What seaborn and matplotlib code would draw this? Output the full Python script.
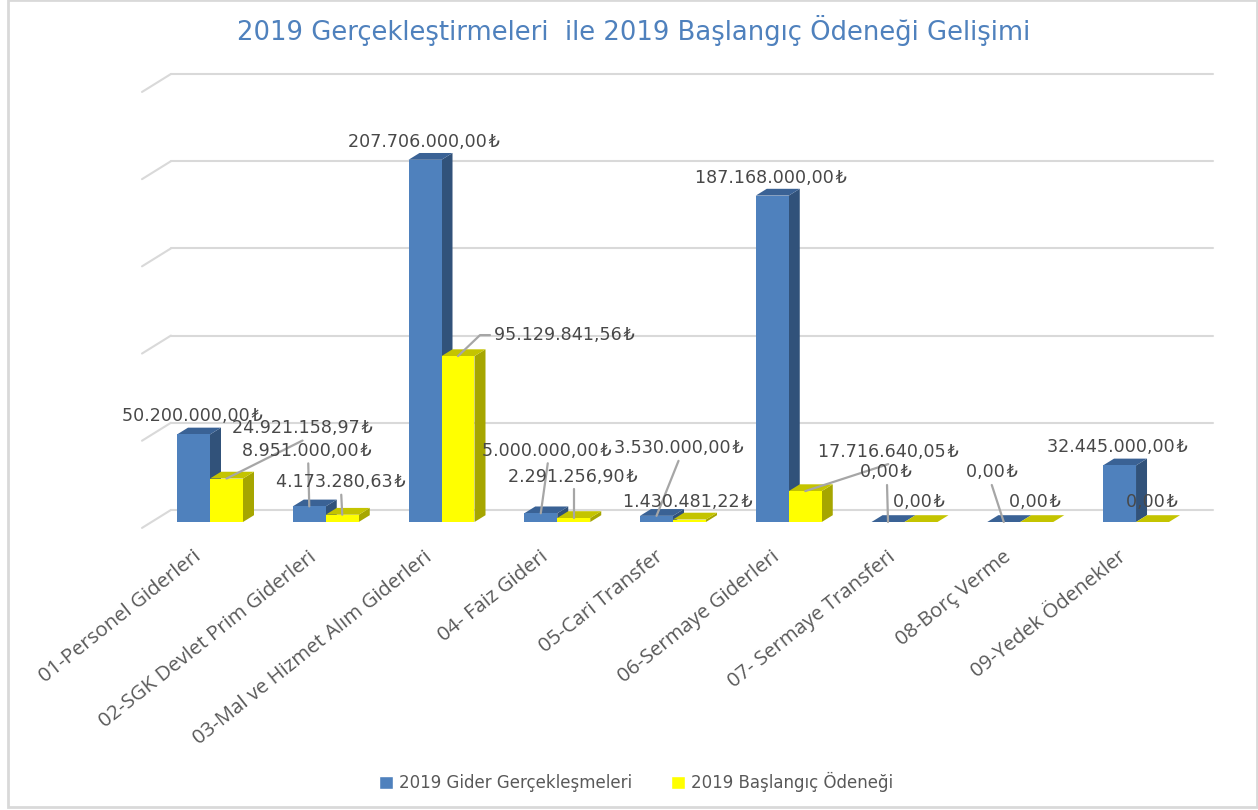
import pandas as pd
import seaborn as sns
import matplotlib.pyplot as plt
from matplotlib.patches import Polygon, Rectangle
from matplotlib.transforms import Affine2D, ScaledTranslation

categories = ["01-Personel Giderleri", "02-SGK Devlet Prim Giderleri", "03-Mal ve Hizmet Alım Giderleri",
              "04- Faiz Gideri", "05-Cari Transfer", "06-Sermaye Giderleri",
              "07- Sermaye Transferi", "08-Borç Verme", "09-Yedek Ödenekler"]
gider = [50200000.00, 8951000.00, 207706000.00, 5000000.00, 3530000.00, 187168000.00, 0.00, 0.00, 32445000.00]
odenek = [24921158.97, 4173280.63, 95129841.56, 2291256.90, 1430481.22, 17716640.05, 0.00, 0.00, 0.00]
series_names = ["2019 Gider Gerçekleşmeleri", "2019 Başlangıç Ödeneği"]
grid_values = [0, 50e6, 100e6, 150e6, 200e6, 250e6]

# label offsets from the top of each bar, in pixels
label_offsets = [
    [(-1, 18), (-2, 55), (-1, 18), (6, 62), (22, 68), (-1, 18), (-2, 50), (-12, 50), (-2, 18)],
    [(76, 51), (-1, 33), (106, 21), (-1, 41), (-2, 18), (83, 39), (-2, 20), (-2, 20), (-1, 20)],
]
# leader lines, same idea: {bar index: list of points}
leaders = [
    {1: [(0, 0), (-1, 43)], 3: [(0, 0), (7, 50)], 4: [(0, 0), (22, 55)], 6: [(0, 0), (-1, 37)], 7: [(0, 0), (-12, 37)]},
    {0: [(0, 0), (76, 38)], 1: [(0, 0), (-1, 20)], 2: [(0, 0), (22, 21), (32, 21)], 3: [(0, 0), (0, 29)], 5: [(0, 0), (83, 27)]},
]

colors = ["#4f81bd", "#ffff00"]
side_colors = ["#31527a", "#a6a600"]
top_colors = ["#3a6295", "#c4c400"]
text_color = "#595959"

sns.set_theme(style="white")
plt.rcParams["font.family"] = ["DejaVu Sans"]

df = pd.DataFrame({
    "kalem": categories * 2,
    "tutar": gider + odenek,
    "seri": [series_names[0]] * len(gider) + [series_names[1]] * len(odenek),
})

fig = plt.figure(figsize=(12.58, 8.10), dpi=100)
ax = fig.add_axes([142 / 1258, (810 - 522) / 810, (1213 - 142) / 1258, (522 - 74) / 810])
sns.barplot(data=df, x="kalem", y="tutar", hue="seri", palette=colors, saturation=1, width=0.57, gap=0, ax=ax)
ax.set_xlim(-0.5875, 8.665)
ax.set_ylim(0, 256.9e6)

depth_x = 0.095
depth_y = 3.9e6

# back wall grid and floor diagonals
for v in grid_values:
    ax.plot([-0.5875 + 0.25, 8.665], [v + 6.9e6, v + 6.9e6], color="#d9d9d9", lw=1.5, zorder=1, clip_on=False)
    ax.plot([-0.5875, -0.5875 + 0.25], [v - 3.4e6, v + 6.9e6], color="#d9d9d9", lw=1.5, zorder=1, clip_on=False)

# fake the 3D look with side and top faces
for s, cont in enumerate(ax.containers):
    for bar in cont:
        x0, w, h = bar.get_x(), bar.get_width(), bar.get_height()
        bar.set_zorder(3 + 2 * s)
        bar.set_edgecolor("none")
        top = [(x0, h), (x0 + w, h), (x0 + w + depth_x, h + depth_y), (x0 + depth_x, h + depth_y)]
        side = [(x0 + w, 0), (x0 + w + depth_x, depth_y), (x0 + w + depth_x, h + depth_y), (x0 + w, h)]
        ax.add_patch(Polygon(side, fc=side_colors[s], ec="none", zorder=2.5 + 2 * s, clip_on=False))
        ax.add_patch(Polygon(top, fc=top_colors[s], ec="none", zorder=2.6 + 2 * s, clip_on=False))

# data labels and leader lines
for s, (cont, vals) in enumerate(zip(ax.containers, [gider, odenek])):
    for i, (bar, v) in enumerate(zip(cont, vals)):
        xy = (bar.get_x() + bar.get_width() / 2, bar.get_height())
        pts = leaders[s].get(i)
        if pts:
            shift = Affine2D().translate(*ax.transData.transform(xy))
            ax.plot([p[0] for p in pts], [p[1] for p in pts], color="#a6a6a6", lw=1.6, zorder=8,
                    clip_on=False, transform=shift)
        txt = f"{v:,.2f}".replace(",", "#").replace(".", ",").replace("#", ".") + "\u200a₺"
        ax.annotate(txt, xy=xy, xytext=label_offsets[s][i], textcoords="offset pixels",
                    ha="center", va="center", fontsize=12.6, color="#484848", zorder=9, annotation_clip=False)

ax.set_xlabel("")
ax.set_ylabel("")
ax.set_yticks([])
ax.set_xticks(range(len(categories)))
ax.set_xticklabels(categories, rotation=38.5, ha="right", rotation_mode="anchor",
                   fontsize=14.7, color=text_color, family="Open Sans")
ax.tick_params(axis="x", length=0, pad=18)
nudge = ScaledTranslation(-18 / 100, 0, fig.dpi_scale_trans)
for lab in ax.get_xticklabels():
    lab.set_transform(lab.get_transform() + nudge)
sns.despine(ax=ax, left=True, bottom=True)
ax.patch.set_alpha(0)

ax.legend(loc="center", bbox_to_anchor=(636 / 1258, 1 - 782 / 810), bbox_transform=fig.transFigure,
          ncol=2, frameon=False, fontsize=12, labelcolor=text_color, columnspacing=2.3,
          handlelength=0.85, handleheight=0.85, handletextpad=0.35)

fig.text(634 / 1258, 1 - 31 / 810, "2019 Gerçekleştirmeleri  ile 2019 Başlangıç Ödeneği Gelişimi",
         ha="center", va="center", fontsize=18.6, color="#4f81bd")

# chart frame
fig.add_artist(Rectangle((8 / 1258, 1 - 807 / 810), 1249 / 1258, 807 / 810, transform=fig.transFigure,
                         fill=False, ec="#d9d9d9", lw=2))

fig.savefig("out.png", dpi=100)
